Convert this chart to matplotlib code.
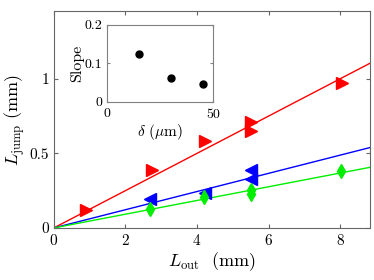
import numpy as np
from matplotlib import pyplot as plt

plt.rcParams['font.family'] = 'serif'
plt.rcParams['font.serif'] = ['cmr10']
plt.rcParams['mathtext.fontset'] = 'cm'
plt.rcParams['axes.formatter.use_mathtext'] = True

# data
x_red = [0.9, 2.74, 4.22, 5.5, 5.5, 8.05]
y_red = [0.12, 0.39, 0.58, 0.71, 0.65, 0.97]
x_blue = [2.7, 4.22, 5.5, 5.5]
y_blue = [0.195, 0.235, 0.39, 0.33]
x_green = [2.7, 4.2, 5.5, 5.5, 8.03]
y_green = [0.13, 0.21, 0.255, 0.225, 0.38]

slopes = [0.125, 0.061, 0.046]
delta = [15, 30, 45]

xfit = np.array([0, 8.83])

fig = plt.figure(figsize=(3.74, 2.8), dpi=100)
ax = fig.add_axes([0.144, 0.186, 0.845, 0.775])

ax.plot(xfit, slopes[0] * xfit, color='red', lw=1.0)
ax.plot(xfit, slopes[1] * xfit, color='blue', lw=1.0)
ax.plot(xfit, slopes[2] * xfit, color='#00ee00', lw=1.0)
ax.plot(x_red, y_red, '>', color='red', ms=8, ls='none')
ax.plot(x_blue, y_blue, '<', color='blue', ms=8, ls='none')
ax.plot(x_green, y_green, 'd', color='#00ee00', ms=7, ls='none')

ax.set_xlim(0, 8.83)
ax.set_ylim(0, 1.455)
ax.set_xticks([0, 2, 4, 6, 8])
ax.set_yticks([0, 0.5, 1])
ax.set_yticklabels(['0', '0.5', '1'])
ax.tick_params(direction='in', top=True, right=True, labelsize=11, length=3, color='0.4')
for s in ax.spines.values():
    s.set_color('0.4')
ax.set_xlabel(r'$L_{\rm out}$  (mm)', fontsize=13, labelpad=2)
ax.set_ylabel(r'$L_{\rm jump}$ (mm)', fontsize=13, labelpad=2)

ins = fig.add_axes([0.286, 0.636, 0.284, 0.275])
ins.plot(delta, slopes, 'o', color='black', ms=5)
ins.set_xlim(0, 50)
ins.set_ylim(0, 0.2)
ins.set_xticks([0, 50])
ins.set_yticks([0, 0.1, 0.2])
ins.set_yticklabels(['0', '0.1', '0.2'])
ins.tick_params(direction='in', top=True, right=True, labelsize=10, length=2, color='0.5')
for s in ins.spines.values():
    s.set_color('0.5')
ins.set_xlabel(r'$\delta$ ($\mu$m)', fontsize=11, labelpad=1)
ins.set_ylabel('Slope', fontsize=11.5, labelpad=0)

plt.savefig('out.png', dpi=100)
